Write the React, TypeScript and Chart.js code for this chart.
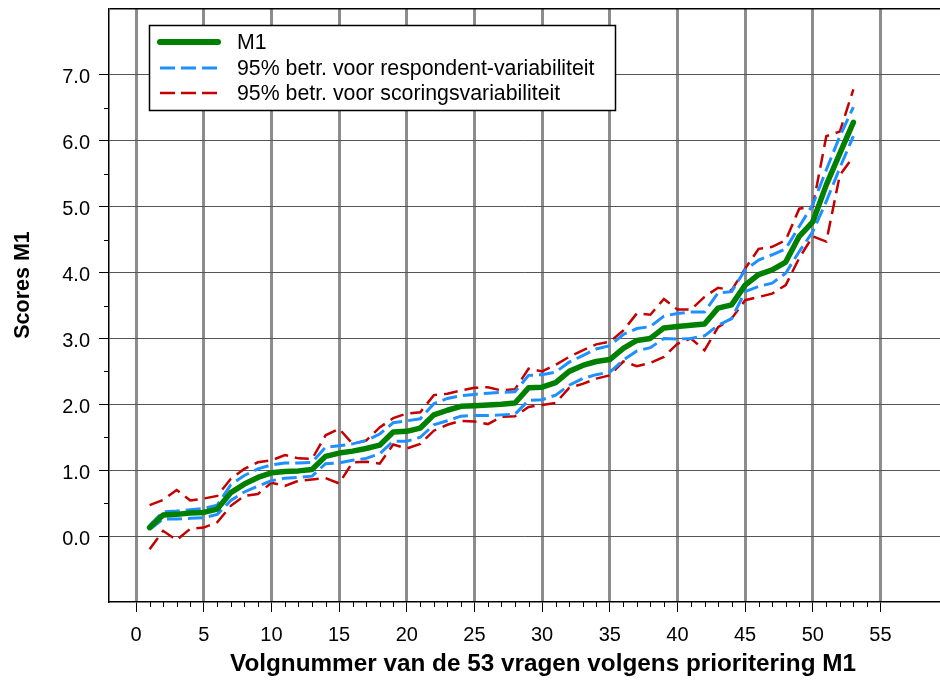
import React, { useEffect, useRef } from "react";
import { Chart, registerables } from "chart.js";

Chart.register(...registerables);

const FONT = "'Liberation Sans', Arial, Helvetica, sans-serif";

const questionNumbers = Array.from({ length: 53 }, (_, i) => i + 1);

const m1Scores = [
  0.13, 0.32, 0.33, 0.35, 0.36, 0.41, 0.66, 0.79, 0.89, 0.96,
  0.98, 0.99, 1.01, 1.21, 1.26, 1.29, 1.33, 1.38, 1.58, 1.59,
  1.64, 1.84, 1.91, 1.97, 1.98, 1.99, 2.0, 2.02, 2.25, 2.26,
  2.33, 2.5, 2.59, 2.65, 2.68, 2.85, 2.97, 3.0, 3.16, 3.18,
  3.2, 3.22, 3.46, 3.51, 3.81, 3.97, 4.04, 4.16, 4.55, 4.77,
  5.33, 5.81, 6.28,
];

const respondentUpper = [
  0.16, 0.37, 0.38, 0.4, 0.42, 0.47, 0.78, 0.92, 1.02, 1.08,
  1.11, 1.11, 1.12, 1.35, 1.37, 1.4, 1.45, 1.55, 1.72, 1.75,
  1.78, 2.01, 2.09, 2.13, 2.15, 2.17, 2.18, 2.19, 2.44, 2.45,
  2.49, 2.64, 2.74, 2.84, 2.89, 3.06, 3.15, 3.18, 3.34, 3.38,
  3.4, 3.4, 3.69, 3.71, 4.04, 4.19, 4.27, 4.36, 4.7, 5.03,
  5.56, 6.07, 6.51,
];

const respondentLower = [
  0.1, 0.26, 0.26, 0.27, 0.28, 0.33, 0.54, 0.67, 0.76, 0.84,
  0.88, 0.89, 0.91, 1.1, 1.11, 1.15, 1.18, 1.25, 1.44, 1.44,
  1.5, 1.69, 1.75, 1.82, 1.83, 1.83, 1.84, 1.85, 2.06, 2.07,
  2.14, 2.29, 2.39, 2.45, 2.49, 2.67, 2.81, 2.86, 3.0, 2.99,
  3.0, 3.04, 3.2, 3.3, 3.71, 3.79, 3.84, 3.99, 4.32, 4.62,
  5.08, 5.59, 6.07,
];

const scoringUpper = [
  0.47, 0.55, 0.7, 0.54, 0.57, 0.61, 0.87, 1.02, 1.12, 1.15,
  1.23, 1.18, 1.17, 1.53, 1.63, 1.4, 1.45, 1.65, 1.79, 1.86,
  1.88, 2.14, 2.16, 2.21, 2.25, 2.26, 2.21, 2.23, 2.54, 2.5,
  2.6, 2.72, 2.82, 2.91, 2.95, 3.12, 3.38, 3.36, 3.6, 3.44,
  3.44, 3.63, 3.77, 3.73, 4.06, 4.36, 4.39, 4.49, 4.97, 5.0,
  6.07, 6.14, 6.78,
];

const scoringLower = [
  -0.2, 0.08, -0.06, 0.11, 0.13, 0.21, 0.46, 0.61, 0.64, 0.81,
  0.76, 0.84, 0.86, 0.88, 0.8, 1.12, 1.13, 1.1, 1.39, 1.33,
  1.4, 1.6, 1.69, 1.75, 1.74, 1.7, 1.81, 1.82, 1.96, 1.99,
  2.02, 2.25, 2.31, 2.39, 2.44, 2.65, 2.58, 2.63, 2.72, 2.92,
  3.0, 2.82, 3.17, 3.3, 3.58, 3.63, 3.68, 3.81, 4.22, 4.55,
  4.47, 5.48, 5.76,
];

const xTickValues = [0, 5, 10, 15, 20, 25, 30, 35, 40, 45, 50, 55];
const yTickValues = [-1, 0, 1, 2, 3, 4, 5, 6, 7, 8];
const yMinorValues = [0.5, 1.5, 2.5, 3.5, 4.5, 5.5, 6.5];
const xMinorValues = Array.from({ length: 54 }, (_, i) => i + 1).filter((v) => v % 5 !== 0);

const xTitle = "Volgnummer van de 53 vragen volgens prioritering M1";
const yTitle = "Scores M1";

const GREEN = "#008000";
const BLUE = "#1E90FF";
const RED = "#C40000";

const legendEntries = [
  { label: "M1", color: GREEN, width: 6, dash: [] as number[] },
  { label: "95% betr. voor respondent-variabiliteit", color: BLUE, width: 3, dash: [15, 6] },
  { label: "95% betr. voor scoringsvariabiliteit", color: RED, width: 2.5, dash: [15, 6] },
];

const toPoints = (vals: number[]) => vals.map((y, i) => ({ x: questionNumbers[i], y }));

const extrasPlugin = {
  id: "extras",
  afterDraw(chart: any) {
    const { ctx, chartArea, scales } = chart;
    const xs = scales.x;
    const ys = scales.y;
    ctx.save();
    // minor ticks
    ctx.strokeStyle = "#000";
    ctx.lineWidth = 1;
    ctx.beginPath();
    xMinorValues.forEach((v) => {
      const px = Math.round(xs.getPixelForValue(v)) + 0.5;
      ctx.moveTo(px, chartArea.bottom);
      ctx.lineTo(px, chartArea.bottom + 5);
    });
    yMinorValues.forEach((v) => {
      const py = Math.round(ys.getPixelForValue(v)) + 0.5;
      ctx.moveTo(chartArea.left - 5, py);
      ctx.lineTo(chartArea.left, py);
    });
    ctx.stroke();

    // axis titles
    ctx.fillStyle = "#000";
    ctx.font = `bold 24.3px ${FONT}`;
    ctx.textAlign = "center";
    ctx.textBaseline = "middle";
    ctx.fillText(xTitle, 543, 664);
    ctx.save();
    ctx.translate(23, 285);
    ctx.rotate(-Math.PI / 2);
    ctx.font = `bold 21.5px ${FONT}`;
    ctx.fillText(yTitle, 0, 0);
    ctx.restore();

    // legend box
    const bx = 149.5, by = 25.5, bw = 466, bh = 85;
    ctx.fillStyle = "#fff";
    ctx.fillRect(bx, by, bw, bh);
    ctx.strokeStyle = "#000";
    ctx.lineWidth = 1.5;
    ctx.strokeRect(bx, by, bw, bh);
    const rows = [42, 68, 93];
    legendEntries.forEach((e, i) => {
      ctx.save();
      ctx.strokeStyle = e.color;
      ctx.lineWidth = e.width;
      ctx.lineCap = e.dash.length ? "butt" : "round";
      ctx.setLineDash(e.dash);
      ctx.beginPath();
      ctx.moveTo(160, rows[i]);
      ctx.lineTo(218, rows[i]);
      ctx.stroke();
      ctx.restore();
      ctx.fillStyle = "#000";
      ctx.font = `21.3px ${FONT}`;
      ctx.textAlign = "left";
      ctx.textBaseline = "middle";
      ctx.fillText(e.label, 237, rows[i] + 1);
    });
    ctx.restore();
  },
};

export default function App() {
  const canvasRef = useRef<HTMLCanvasElement | null>(null);

  useEffect(() => {
    const canvas = canvasRef.current;
    if (!canvas) return;
    const chart = new Chart(canvas, {
      type: "line",
      data: {
        datasets: [
          {
            label: "M1",
            data: toPoints(m1Scores),
            borderColor: GREEN,
            borderWidth: 5.5,
            pointRadius: 0,
            tension: 0,
            borderCapStyle: "round",
            borderJoinStyle: "round",
          },
          {
            label: "95% betr. voor respondent-variabiliteit (boven)",
            data: toPoints(respondentUpper),
            borderColor: BLUE,
            borderWidth: 3,
            borderDash: [15, 6],
            pointRadius: 0,
            tension: 0,
          },
          {
            label: "95% betr. voor respondent-variabiliteit (onder)",
            data: toPoints(respondentLower),
            borderColor: BLUE,
            borderWidth: 3,
            borderDash: [15, 6],
            pointRadius: 0,
            tension: 0,
          },
          {
            label: "95% betr. voor scoringsvariabiliteit (boven)",
            data: toPoints(scoringUpper),
            borderColor: RED,
            borderWidth: 2.5,
            borderDash: [14, 7],
            pointRadius: 0,
            tension: 0,
          },
          {
            label: "95% betr. voor scoringsvariabiliteit (onder)",
            data: toPoints(scoringLower),
            borderColor: RED,
            borderWidth: 2.5,
            borderDash: [14, 7],
            pointRadius: 0,
            tension: 0,
          },
        ],
      },
      options: {
        animation: false,
        responsive: false,
        maintainAspectRatio: false,
        layout: { padding: { top: 9, right: 0, left: 0, bottom: 0 } },
        plugins: { legend: { display: false }, tooltip: { enabled: false } },
        scales: {
          x: {
            type: "linear",
            min: -2,
            max: 59.4,
            afterBuildTicks: (s: any) => {
              s.ticks = xTickValues.map((v) => ({ value: v }));
            },
            afterFit: (s: any) => {
              s.height = 79;
              s.paddingLeft = 0;
              s.paddingRight = 0;
            },
            grid: {
              color: "#8c8c8c",
              lineWidth: 3,
              tickLength: 10,
              tickColor: "#000",
              tickWidth: 1,
            },
            border: { color: "#000", width: 1.5 },
            ticks: {
              font: { family: FONT, size: 20 },
              color: "#000",
              padding: 11,
              maxRotation: 0,
              autoSkip: false,
              callback: (v: any) => String(v),
            },
          },
          y: {
            type: "linear",
            min: -1,
            max: 8,
            afterBuildTicks: (s: any) => {
              s.ticks = yTickValues.map((v) => ({ value: v }));
            },
            afterFit: (s: any) => {
              s.width = 109;
              s.paddingTop = 0;
              s.paddingBottom = 0;
            },
            grid: {
              color: (c: any) =>
                c.tick && c.tick.value === 8 ? "#000" : c.tick && c.tick.value === -1 ? "rgba(0,0,0,0)" : "#555",
              lineWidth: (c: any) => (c.tick && c.tick.value === 8 ? 1.5 : 1),
              tickLength: 10,
              tickColor: (c: any) =>
                c.tick && (c.tick.value === 8 || c.tick.value === -1) ? "rgba(0,0,0,0)" : "#000",
              tickWidth: 1,
            },
            border: { color: "#000", width: 1.5 },
            ticks: {
              font: { family: FONT, size: 20 },
              color: "#000",
              padding: 9,
              labelOffset: 3,
              autoSkip: false,
              callback: (v: any) => (v >= 0 && v <= 7 ? Number(v).toFixed(1) : ""),
            },
          },
        },
      },
      plugins: [extrasPlugin],
    } as any);
    return () => chart.destroy();
  }, []);

  return (
    <div style={{ position: "absolute", left: 0, top: 0, width: 940, height: 681, background: "#fff" }}>
      <canvas ref={canvasRef} width={940} height={681} style={{ display: "block" }} />
    </div>
  );
}
